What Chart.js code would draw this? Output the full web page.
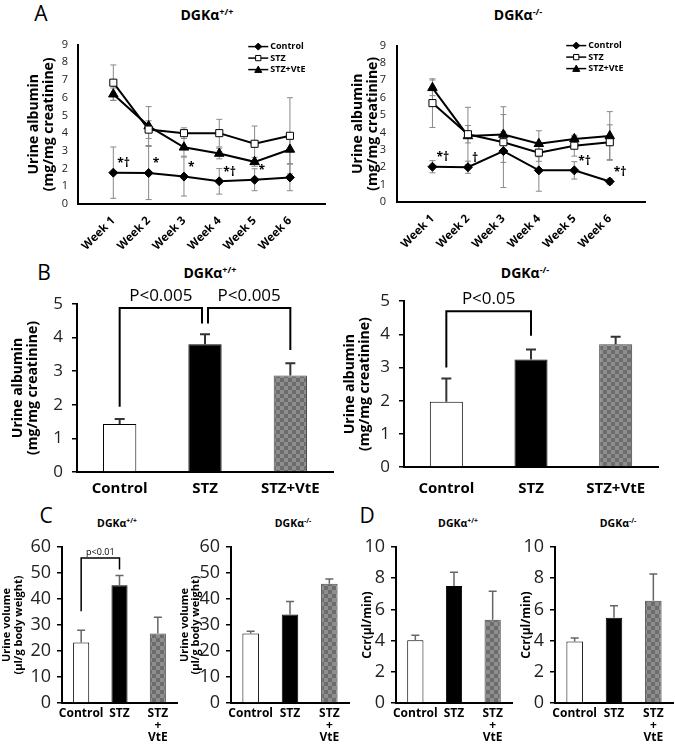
<!DOCTYPE html>
<html>
<head>
<meta charset="utf-8">
<script src="https://cdn.jsdelivr.net/npm/chart.js@4.4.1/dist/chart.umd.min.js"></script>
<style>
body { margin:0; width:675px; height:744px; position:relative; background:#fff; overflow:hidden; font-family:'Open Sans', sans-serif; }
canvas { position:absolute; }
.lbl { position:absolute; transform:translate(-50%,-50%); white-space:nowrap; color:#000; line-height:1; }
.ttl { font-weight:bold; font-size:14px; }
.sm { font-size:10.5px; }
.lbl sup { font-size:0.65em; vertical-align:0.55em; line-height:0; }
.pl { font-size:21px; }
</style>
</head>
<body>
<div class="lbl pl" style="left:41px;top:13px">A</div>
<div class="lbl pl" style="left:44px;top:272px">B</div>
<div class="lbl pl" style="left:46px;top:515px">C</div>
<div class="lbl pl" style="left:367px;top:515px">D</div>
<div class="lbl ttl" style="left:207px;top:15px">DGKα<sup>+/+</sup></div>
<div class="lbl ttl" style="left:518px;top:15px">DGKα<sup>-/-</sup></div>
<div class="lbl ttl" style="left:210px;top:273px">DGKα<sup>+/+</sup></div>
<div class="lbl ttl" style="left:525px;top:273px">DGKα<sup>-/-</sup></div>
<div class="lbl ttl sm" style="left:117px;top:523px">DGKα<sup>+/+</sup></div>
<div class="lbl ttl sm" style="left:293px;top:523px">DGKα<sup>-/-</sup></div>
<div class="lbl ttl sm" style="left:458px;top:523px">DGKα<sup>+/+</sup></div>
<div class="lbl ttl sm" style="left:618px;top:523px">DGKα<sup>-/-</sup></div>
<script>
// categories
const weeks = ['Week 1', 'Week 2', 'Week 3', 'Week 4', 'Week 5', 'Week 6'];
const groups = ['Control', 'STZ', 'STZ+VtE'];
const groupsShort = ['Control', 'STZ', ['STZ', '+', 'VtE']];

// A: urine albumin by week, DGKa+/+
const aWtCtl = [1.77, 1.75, 1.55, 1.28, 1.37, 1.5];
const aWtCtlErr = [1.45, 1.5, 1.1, 0.72, 0.62, 0.75];
const aWtStz = [6.85, 4.2, 4.0, 4.0, 3.4, 3.85];
const aWtStzErr = [1.0, 0.5, 0.3, 0.78, 1.0, 2.15];
const aWtVte = [6.2, 4.4, 3.2, 2.85, 2.38, 3.08];
const aWtVteErr = [0.35, 1.1, 0.5, 0.3, 0.25, 0.8];
const aWtMarks = [{week: 1, text: '*†'}, {week: 2, text: '*'}, {week: 3, text: '*'}, {week: 4, text: '*†'}, {week: 5, text: '*'}];

// A: DGKa-/-
const aKoCtl = [2.03, 2.0, 2.93, 1.82, 1.82, 1.18];
const aKoCtlErr = [0.35, 0.35, 2.1, 1.2, 0.5, 0.15];
const aKoStz = [5.69, 3.9, 3.44, 2.84, 3.24, 3.44];
const aKoStzErr = [1.4, 0.5, 0.6, 0.5, 0.6, 1.0];
const aKoVte = [6.57, 3.8, 3.88, 3.35, 3.63, 3.8];
const aKoVteErr = [0.45, 1.65, 1.6, 0.75, 0.15, 1.4];
const aKoMarks = [{week: 1, text: '*†'}, {week: 2, text: '†'}, {week: 5, text: '*†'}, {week: 6, text: '*†'}];

// B: urine albumin
const bWt = [1.43, 3.8, 2.87];
const bWtErr = [0.15, 0.3, 0.37];
const bKo = [1.97, 3.24, 3.7];
const bKoErr = [0.7, 0.3, 0.23];
const bWtSig = [{a: 0, b: 1, ya: 1.94, yb: 4.42, top: 4.88, text: 'P<0.005', dxb: -3},
                {a: 1, b: 2, ya: 4.42, yb: 3.63, top: 4.88, text: 'P<0.005', dxa: 3}];
const bKoSig = [{a: 0, b: 1, ya: 3.0, yb: 3.96, top: 4.7, text: 'P<0.05'}];

// C: urine volume
const cWt = [23.3, 45.3, 26.7];
const cWtErr = [4.7, 3.7, 6.3];
const cKo = [26.7, 34.0, 45.9];
const cKoErr = [0.9, 5.0, 1.8];
const cWtSig = [{a: 0, b: 1, ya: 35.3, yb: 51.3, top: 55.8, text: 'p<0.01'}];

// D: Ccr
const dWt = [4.02, 7.5, 5.34];
const dWtErr = [0.32, 0.88, 1.82];
const dKo = [3.95, 5.47, 6.56];
const dKoErr = [0.22, 0.77, 1.71];

const FONT = "'Open Sans', sans-serif";
Chart.defaults.font.family = FONT;
Chart.defaults.color = '#000';

function box(left, top, w, h) {
  const c = document.createElement('canvas');
  c.width = w; c.height = h;
  c.style.left = left + 'px'; c.style.top = top + 'px';
  c.style.width = w + 'px'; c.style.height = h + 'px';
  document.body.appendChild(c);
  return c;
}

function checker() {
  const c = document.createElement('canvas');
  c.width = 8; c.height = 8;
  const g = c.getContext('2d');
  g.fillStyle = '#8e8e8e'; g.fillRect(0, 0, 8, 8);
  g.fillStyle = '#6c6c6c'; g.fillRect(0, 0, 4, 4); g.fillRect(4, 4, 4, 4);
  return g.createPattern(c, 'repeat');
}
const vtePattern = checker();

// error bars
function drawErr(chart) {
  const ctx = chart.ctx, y = chart.scales.y;
  chart.data.datasets.forEach((ds, di) => {
    if (!ds.errors) return;
    const meta = chart.getDatasetMeta(di);
    ctx.save();
    ctx.strokeStyle = ds.errColor || '#888';
    ctx.lineWidth = ds.errWidth || 1;
    const cap = ds.cap || 3;
    meta.data.forEach((el, i) => {
      const e = ds.errors[i], v = ds.data[i];
      if (e == null || v == null) return;
      const top = y.getPixelForValue(v + e);
      const bot = ds.errUp ? el.y : y.getPixelForValue(v - e);
      ctx.beginPath();
      ctx.moveTo(el.x, top); ctx.lineTo(el.x, bot);
      ctx.moveTo(el.x - cap, top); ctx.lineTo(el.x + cap, top);
      if (!ds.errUp) { ctx.moveTo(el.x - cap, bot); ctx.lineTo(el.x + cap, bot); }
      ctx.stroke();
    });
    ctx.restore();
  });
}
const errorBars = {
  id: 'errbars',
  beforeDatasetsDraw(chart) { if (chart.config.type === 'line') drawErr(chart); },
  afterDatasetsDraw(chart) { if (chart.config.type === 'bar') drawErr(chart); }
};

function marker(ctx, style, x, y, r, fill) {
  ctx.beginPath();
  if (style === 'rectRot') {
    ctx.moveTo(x, y - r); ctx.lineTo(x + r, y); ctx.lineTo(x, y + r); ctx.lineTo(x - r, y);
  } else if (style === 'triangle') {
    ctx.moveTo(x, y - r); ctx.lineTo(x + r, y + r * 0.8); ctx.lineTo(x - r, y + r * 0.8);
  } else {
    ctx.rect(x - r * 0.75, y - r * 0.75, r * 1.5, r * 1.5);
  }
  ctx.closePath();
  ctx.fillStyle = fill; ctx.fill();
  ctx.lineWidth = 1; ctx.strokeStyle = '#000'; ctx.stroke();
}

const lineLegend = {
  id: 'lineLegend',
  afterDraw(chart, args, opts) {
    const {ctx, chartArea} = chart;
    const x0 = chartArea.right + opts.dx, y0 = chartArea.top + opts.dy;
    ctx.save();
    ctx.font = 'bold 9px ' + FONT;
    ctx.textBaseline = 'middle';
    chart.data.datasets.forEach((ds, i) => {
      const yy = y0 + i * 11.5;
      ctx.strokeStyle = '#000'; ctx.lineWidth = 1.5;
      ctx.beginPath(); ctx.moveTo(x0, yy); ctx.lineTo(x0 + 20, yy); ctx.stroke();
      marker(ctx, ds.pointStyle, x0 + 10, yy, 3.5, ds.pointBackgroundColor);
      ctx.fillStyle = '#000';
      ctx.fillText(ds.label, x0 + 22, yy);
    });
    ctx.restore();
  }
};

const marks = {
  id: 'marks',
  afterDatasetsDraw(chart, args, opts) {
    if (!opts.items) return;
    const ctx = chart.ctx, meta = chart.getDatasetMeta(0);
    ctx.save();
    ctx.font = 'bold 12px ' + FONT;
    ctx.fillStyle = '#000';
    ctx.textBaseline = 'middle';
    opts.items.forEach(m => {
      const el = meta.data[m.week];
      ctx.fillText(m.text, el.x + 4, el.y - 9);
    });
    ctx.restore();
  }
};

const brackets = {
  id: 'brackets',
  afterDraw(chart, args, opts) {
    if (!opts.items) return;
    const ctx = chart.ctx, x = chart.scales.x, y = chart.scales.y;
    ctx.save();
    ctx.strokeStyle = '#000'; ctx.lineWidth = opts.lw;
    ctx.fillStyle = '#000';
    ctx.font = opts.size + 'px ' + FONT;
    ctx.textAlign = 'center'; ctx.textBaseline = 'bottom';
    opts.items.forEach(b => {
      const xa = x.getPixelForValue(b.a) + (b.dxa || 0);
      const xb = x.getPixelForValue(b.b) + (b.dxb || 0);
      const yt = y.getPixelForValue(b.top);
      ctx.beginPath();
      ctx.moveTo(xa, y.getPixelForValue(b.ya)); ctx.lineTo(xa, yt);
      ctx.lineTo(xb, yt); ctx.lineTo(xb, y.getPixelForValue(b.yb));
      ctx.stroke();
      ctx.fillText(b.text, (xa + xb) / 2, yt - opts.gap);
    });
    ctx.restore();
  }
};

function weekChart(cv, series, o) {
  return new Chart(cv, {
    type: 'line',
    data: {
      labels: ['', ...weeks, ''],
      datasets: series.map(s => ({
        label: s.label,
        data: [null, ...s.data, null],
        errors: [null, ...s.err, null],
        borderColor: '#000', borderWidth: 2, tension: 0,
        pointStyle: s.style, pointRadius: s.r,
        pointBackgroundColor: s.fill, pointBorderColor: '#000', pointBorderWidth: 1
      }))
    },
    options: {
      responsive: false, animation: false,
      layout: {padding: {top: o.pt, right: o.pr, left: 0, bottom: 0}},
      plugins: {
        legend: {display: false}, tooltip: {enabled: false},
        lineLegend: {dx: o.ldx, dy: o.ldy},
        marks: {items: o.marks}
      },
      scales: {
        x: {
          offset: false, grid: {display: false, drawTicks: false}, border: {color: '#000', width: 2},
          ticks: {autoSkip: false, minRotation: 45, maxRotation: 45, padding: 10, font: {size: 11.5, weight: 'bold'}},
          afterFit: s => { s.height = o.xh; }
        },
        y: {
          min: 0, max: 9,
          ticks: {stepSize: 1, padding: o.yp, color: '#222', font: {size: 11}},
          grid: {display: false, drawTicks: false}, border: {color: '#000', width: 2},
          title: {display: true, text: ['Urine albumin', '(mg/mg creatinine)'],
                  font: {size: 14, weight: 'bold', lineHeight: 1.05}, padding: {top: o.tp, bottom: 0}},
          afterFit: s => { s.width = o.yw; }
        }
      }
    },
    plugins: [errorBars, lineLegend, marks]
  });
}

function barChart(cv, vals, errs, o) {
  return new Chart(cv, {
    type: 'bar',
    data: {
      labels: o.labels,
      datasets: [{
        data: vals, errors: errs, errUp: true,
        errColor: o.ec, errWidth: o.ew, cap: o.cap,
        backgroundColor: ['#fff', '#000', vtePattern],
        borderColor: ['#000', '#000', '#4a4a4a'], borderWidth: 1,
        barPercentage: o.bp, categoryPercentage: 1
      }]
    },
    options: {
      responsive: false, animation: false,
      layout: {padding: {top: o.pt, right: o.pr, left: 0, bottom: 0}},
      plugins: {
        legend: {display: false}, tooltip: {enabled: false},
        brackets: {items: o.sig, lw: o.blw, size: o.bs, gap: o.bg}
      },
      scales: {
        x: {
          grid: {display: false, drawTicks: false}, border: {color: '#000', width: 2},
          ticks: {maxRotation: 0, autoSkip: false, padding: o.xp, font: {size: o.xf, weight: 'bold', lineHeight: 1}},
          afterFit: s => { s.height = o.xh; }
        },
        y: {
          min: 0, max: o.max,
          ticks: {stepSize: o.step, padding: o.yp, color: '#222', font: {size: o.yf}},
          grid: {display: true, drawOnChartArea: false, drawTicks: true, tickLength: 5, color: '#000', lineWidth: 1.5},
          border: {color: '#000', width: 2},
          title: {display: true, text: o.title, font: {size: o.tf, weight: 'bold', lineHeight: o.tlh}, padding: {top: o.tp, bottom: 0}},
          afterFit: s => { s.width = o.yw; }
        }
      }
    },
    plugins: [errorBars, brackets]
  });
}

const lineStyles = [
  {label: 'Control', style: 'rectRot', r: 4.5, fill: '#000'},
  {label: 'STZ', style: 'rect', r: 5, fill: '#fff'},
  {label: 'STZ+VtE', style: 'triangle', r: 5.5, fill: '#000'}
];

weekChart(box(0, 28, 345, 262), [
  {...lineStyles[0], data: aWtCtl, err: aWtCtlErr},
  {...lineStyles[1], data: aWtStz, err: aWtStzErr},
  {...lineStyles[2], data: aWtVte, err: aWtVteErr}
], {pt: 12, pr: 5, yw: 78, xh: 86, yp: 10, tp: 26.5, ldx: -77, ldy: 2, marks: aWtMarks});

weekChart(box(330, 28, 335, 262), [
  {...lineStyles[0], data: aKoCtl, err: aKoCtlErr},
  {...lineStyles[1], data: aKoStz, err: aKoStzErr},
  {...lineStyles[2], data: aKoVte, err: aKoVteErr}
], {pt: 11, pr: 8, yw: 67, xh: 88, yp: 11, tp: 20.5, ldx: -79, ldy: 0, marks: aKoMarks});

const bBase = {labels: groups, max: 5, step: 1, yf: 17, xf: 15, bp: 0.39, ec: '#333', ew: 2, cap: 5,
  title: ['Urine albumin', '(mg/mg creatinine)'], tf: 14, tlh: 1.07, blw: 2, bs: 17, bg: 3};
barChart(box(0, 282, 340, 220), bWt, bWtErr,
  {...bBase, pt: 22, pr: 7, yw: 77, xh: 30, xp: 9, yp: 9, tp: 10.5, sig: bWtSig});
barChart(box(335, 282, 340, 220), bKo, bKoErr,
  {...bBase, pt: 17, pr: 17, yw: 69, xh: 35, xp: 14, yp: 9, tp: 7.5, sig: bKoSig});

const cBase = {labels: groupsShort, max: 60, step: 10, yf: 18, xf: 12, bp: 0.42, ec: '#666', ew: 1.5, cap: 4,
  title: ['Urine volume', '(μl/g body weight)'], tf: 11, tlh: 1.05, blw: 1.5, bs: 9, bg: 1, xp: 5, yp: 6, pt: 17, xh: 41};
barChart(box(0, 530, 185, 214), cWt, cWtErr, {...cBase, pr: 8, yw: 62, tp: 1.5, sig: cWtSig});
barChart(box(172, 530, 178, 214), cKo, cKoErr, {...cBase, pr: 1, yw: 59, tp: 7});

const dBase = {...cBase, max: 10, step: 2, title: 'Ccr(μl/min)', tf: 12, tlh: 1};
barChart(box(350, 530, 165, 214), dWt, dWtErr, {...dBase, pr: 3, yw: 46, tp: 11.5});
barChart(box(515, 530, 160, 214), dKo, dKoErr, {...dBase, pr: 2, yw: 40, tp: 6});
</script>
</body>
</html>
